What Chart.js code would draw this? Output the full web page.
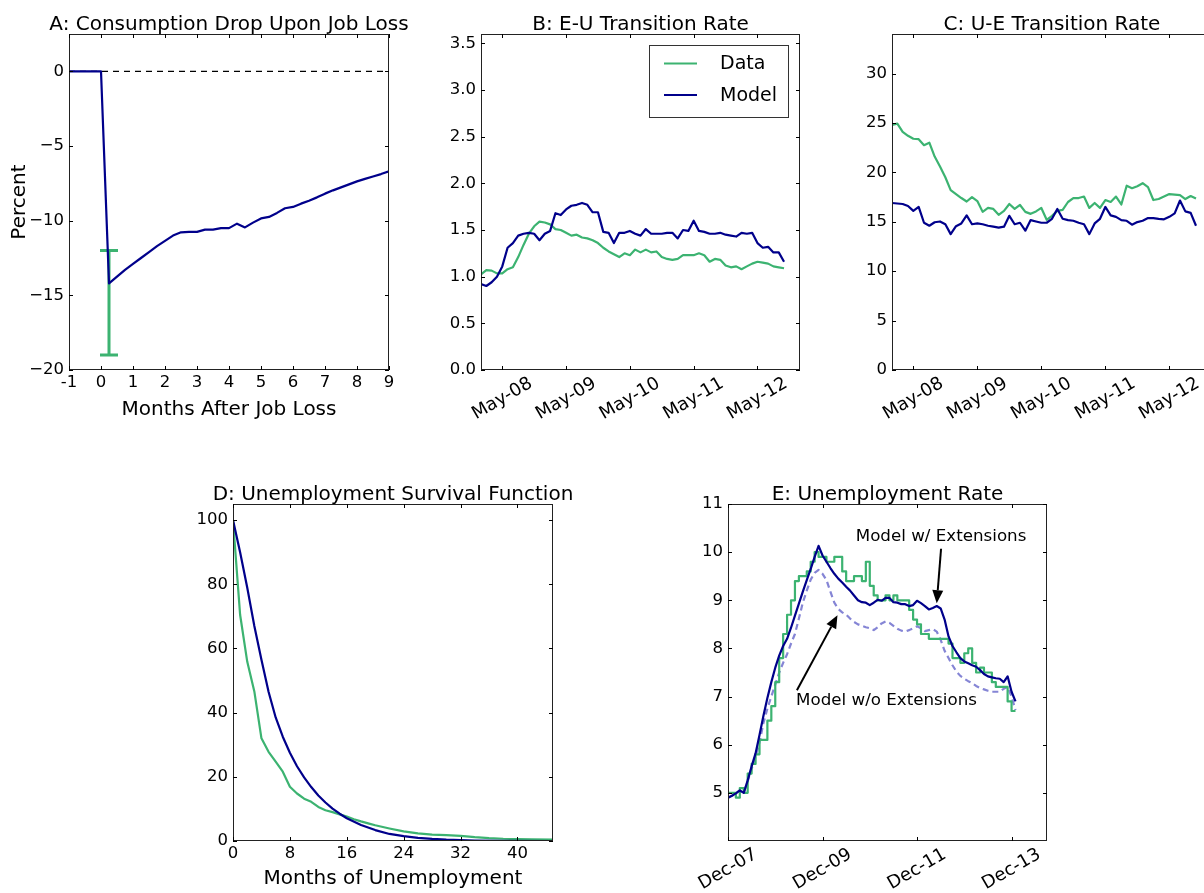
<!DOCTYPE html>
<html>
<head>
<meta charset="utf-8">
<title>Unemployment, transition rates and consumption</title>
<script src="https://cdn.jsdelivr.net/npm/chart.js@4.4.1/dist/chart.umd.min.js"></script>
<style>
  html, body { margin: 0; padding: 0; background: #fff; overflow: hidden; }
  #page { position: relative; width: 1204px; height: 893px; overflow: hidden; background: #fff; }
  #page canvas { position: absolute; }
</style>
</head>
<body>
<div id="page"></div>
<script>
// ---------------- Panel A: consumption around job loss ----------------
const consMonths = [-1, -0.75, -0.5, -0.25, 0, 0.25, 0.5, 0.75, 1, 1.25, 1.5, 1.75, 2, 2.25, 2.5, 2.75,
  3, 3.25, 3.5, 3.75, 4, 4.25, 4.5, 4.75, 5, 5.25, 5.5, 5.75, 6, 6.25, 6.5, 6.75, 7, 7.25, 7.5, 7.75,
  8, 8.25, 8.5, 8.75, 9];
const consModel = [0, 0, 0, 0, 0, -14.2, -13.75, -13.3, -12.9, -12.5, -12.1, -11.7, -11.35, -11.0, -10.78, -10.75,
  -10.75, -10.6, -10.6, -10.5, -10.5, -10.2, -10.45, -10.13, -9.85, -9.75, -9.48, -9.17, -9.08, -8.86, -8.66, -8.44,
  -8.19, -7.97, -7.77, -7.57, -7.37, -7.2, -7.04, -6.88, -6.7];
const consEstMonth = 0.25;
const consEstLow = -19;
const consEstHigh = -12;
const consXTicks = [-1, 0, 1, 2, 3, 4, 5, 6, 7, 8, 9];
const consYTicks = [-20, -15, -10, -5, 0];
const consYLabels = ['\u221220', '\u221215', '\u221210', '\u22125', '0'];

// ---------------- Panels B & C: monthly flow rates from Jan-08 ----------------
const flowTicks = [4, 16, 28, 40, 52];
const flowTickLabels = ['May-08', 'May-09', 'May-10', 'May-11', 'May-12'];
const euData = [1.025, 1.07, 1.065, 1.035, 1.035, 1.08, 1.10, 1.21, 1.34, 1.46,
  1.54, 1.59, 1.58, 1.56, 1.51, 1.50, 1.47, 1.44, 1.45, 1.42,
  1.41, 1.39, 1.36, 1.31, 1.27, 1.24, 1.21, 1.25, 1.23, 1.29,
  1.26, 1.29, 1.26, 1.27, 1.21, 1.19, 1.18, 1.19, 1.23, 1.23,
  1.23, 1.25, 1.23, 1.16, 1.19, 1.18, 1.12, 1.10, 1.11, 1.08,
  1.11, 1.14, 1.16, 1.15, 1.14, 1.11, 1.10, 1.09];
const euModel = [0.92, 0.90, 0.94, 1.00, 1.11, 1.31, 1.36, 1.44, 1.46, 1.47,
  1.46, 1.39, 1.46, 1.49, 1.68, 1.66, 1.72, 1.76, 1.77, 1.79,
  1.77, 1.69, 1.69, 1.48, 1.47, 1.36, 1.47, 1.47, 1.49, 1.46,
  1.44, 1.51, 1.46, 1.46, 1.46, 1.47, 1.47, 1.41, 1.50, 1.49,
  1.60, 1.49, 1.48, 1.46, 1.46, 1.47, 1.45, 1.44, 1.43, 1.47,
  1.46, 1.47, 1.36, 1.31, 1.32, 1.26, 1.26, 1.16];
const ueData = [24.8, 24.93, 24.1, 23.7, 23.4, 23.36, 22.75, 23.0, 21.6, 20.6,
  19.5, 18.2, 17.8, 17.4, 17.05, 17.5, 17.1, 16.0, 16.4, 16.3,
  15.7, 16.1, 16.8, 16.3, 16.7, 16.0, 15.8, 16.05, 16.4, 15.2,
  15.6, 16.1, 16.2, 17.0, 17.4, 17.4, 17.55, 16.4, 16.9, 16.4,
  17.2, 17.0, 17.55, 16.75, 18.65, 18.4, 18.6, 18.9, 18.5, 17.2,
  17.3, 17.55, 17.8, 17.75, 17.7, 17.3, 17.6, 17.35];
const ueModel = [16.9, 16.85, 16.8, 16.6, 16.1, 16.5, 14.9, 14.6, 14.95, 15.03,
  14.75, 13.75, 14.55, 14.83, 15.65, 14.75, 14.83, 14.75, 14.6, 14.5,
  14.4, 14.5, 15.6, 14.75, 14.9, 14.1, 15.17, 15.03, 14.9, 14.9,
  15.3, 16.3, 15.3, 15.17, 15.1, 14.9, 14.75, 13.75, 14.83, 15.3,
  16.5, 15.65, 15.5, 15.17, 15.1, 14.7, 14.97, 15.1, 15.37, 15.37,
  15.3, 15.25, 15.5, 15.85, 17.15, 16.05, 15.9, 14.6];
const euYTicks = [0, 0.5, 1, 1.5, 2, 2.5, 3, 3.5];
const euYLabels = ['0.0', '0.5', '1.0', '1.5', '2.0', '2.5', '3.0', '3.5'];
const ueYTicks = [0, 5, 10, 15, 20, 25, 30];
const ueYLabels = ['0', '5', '10', '15', '20', '25', '30'];

// ---------------- Panel D: survival in unemployment ----------------
const survDataMonths = [0, 1, 2, 3, 4, 5, 6, 7, 8, 9, 10, 11, 12, 13, 14, 15, 16, 17, 18, 19, 20,
  22, 24, 26, 28, 30, 32, 34, 36, 38, 40, 42, 45];
const survData = [100, 70.5, 55.9, 46.6, 32, 27.8, 24.7, 21.6, 16.9, 14.8, 13.2, 12.2, 10.6, 9.6, 9.0, 8.3, 7.6, 6.8, 6.1, 5.5, 4.9,
  3.9, 3.0, 2.4, 2.0, 1.8, 1.6, 1.2, 0.9, 0.7, 0.6, 0.5, 0.4];
const survModelMonths = [0, 1, 2, 3, 4, 5, 6, 7, 8, 9, 10, 11, 12, 13, 14, 15, 16, 18, 20, 22, 24, 26, 28, 30, 34, 38, 45];
const survModel = [100, 90, 79, 67, 56.5, 46.5, 38.5, 32.5, 27.5, 23.3, 19.8, 16.8, 14.2, 12.0, 10.1, 8.5, 7.1,
  5.0, 3.4, 2.2, 1.5, 1.0, 0.65, 0.4, 0.15, 0.05, 0];
const survXTicks = [0, 8, 16, 24, 32, 40];
const survYTicks = [0, 20, 40, 60, 80, 100];

// ---------------- Panel E: unemployment rate from Dec-07 ----------------
const urateTicks = [0, 24, 48, 72];
const urateTickLabels = ['Dec-07', 'Dec-09', 'Dec-11', 'Dec-13'];
const urateData = [5.0, 5.0, 4.9, 5.1, 5.0, 5.4, 5.6, 5.8, 6.1, 6.1,
  6.5, 6.8, 7.3, 7.8, 8.3, 8.7, 9.0, 9.4, 9.5, 9.5,
  9.6, 9.8, 10.0, 9.9, 9.9, 9.8, 9.8, 9.9, 9.9, 9.6,
  9.4, 9.4, 9.5, 9.5, 9.4, 9.8, 9.3, 9.1, 9.0, 9.0,
  9.1, 9.0, 9.1, 9.0, 9.0, 9.0, 8.8, 8.6, 8.5, 8.3,
  8.3, 8.2, 8.2, 8.2, 8.2, 8.2, 8.1, 7.8, 7.8, 7.7,
  7.9, 8.0, 7.7, 7.5, 7.6, 7.5, 7.5, 7.3, 7.2, 7.2,
  7.2, 6.9, 6.7, 6.7];
const urateModelExt = [4.9, 4.94, 4.99, 5.05, 5.0, 5.26, 5.55, 5.82, 6.2, 6.6,
  6.97, 7.3, 7.6, 7.85, 8.05, 8.2, 8.43, 8.68, 8.93, 9.18,
  9.42, 9.65, 9.9, 10.13, 9.93, 9.8, 9.67, 9.55, 9.45, 9.37,
  9.28, 9.2, 9.1, 9.0, 8.96, 8.95, 8.9, 8.95, 9.01, 8.99,
  9.05, 9.05, 8.96, 8.95, 8.92, 8.92, 8.88, 8.9, 8.99, 8.94,
  8.88, 8.81, 8.84, 8.88, 8.83, 8.6, 8.25, 8.05, 7.92, 7.8,
  7.73, 7.69, 7.65, 7.62, 7.55, 7.47, 7.42, 7.4, 7.38, 7.37,
  7.3, 7.42, 7.1, 6.9];
const urateModelNoExt = [4.9, 4.94, 4.99, 5.05, 5.0, 5.24, 5.5, 5.75, 6.05, 6.45,
  6.75, 7.0, 7.25, 7.5, 7.7, 7.88, 8.1, 8.3, 8.62, 8.95,
  9.2, 9.43, 9.57, 9.63, 9.55, 9.42, 9.18, 8.95, 8.82, 8.75,
  8.7, 8.62, 8.55, 8.5, 8.47, 8.44, 8.42, 8.38, 8.44, 8.52,
  8.56, 8.53, 8.47, 8.41, 8.37, 8.35, 8.38, 8.42, 8.46, 8.42,
  8.36, 8.38, 8.4, 8.35, 8.18, 7.95, 7.8, 7.65, 7.52, 7.43,
  7.37, 7.32, 7.28, 7.22, 7.18, 7.15, 7.12, 7.1, 7.1, 7.1,
  7.16, 7.2, 7.0, 6.72];
const urateYTicks = [5, 6, 7, 8, 9, 10, 11];

// ---------------- styling ----------------
const FONT = '"DejaVu Sans", "Liberation Sans", sans-serif';
const GREEN = '#3cb371';
const NAVY = '#00008b';
const LAVENDER = '#8585d5';
const LINE_W = 2.2;
const TICK_SIZE = 16.5;
const SLANT_SIZE = 18;

// callouts for panel E, anchored in (month, rate) units
const urateCallouts = [
  { text: 'Model w/ Extensions', at: [54.1, 10.32], from: [54.1, 10.07], to: [53.0, 8.94] },
  { text: 'Model w/o Extensions', at: [40.25, 6.91], from: [17.5, 7.13], to: [27.8, 8.69] }
];

const page = document.getElementById('page');
const pts = (xs, ys) => xs.map((x, i) => ({ x: x, y: ys[i] }));
const idx = n => Array.from({ length: n }, (_, i) => i);

function line(data, color, extra) {
  return Object.assign({ data: data, borderColor: color, backgroundColor: color, borderWidth: LINE_W,
    pointRadius: 0, fill: false, tension: 0 }, extra || {});
}

function arrow(ctx, x0, y0, x1, y1) {
  const ang = Math.atan2(y1 - y0, x1 - x0);
  const hl = 13, hw = 5.5;
  const bx = x1 - hl * Math.cos(ang), by = y1 - hl * Math.sin(ang);
  ctx.lineWidth = 2;
  ctx.beginPath(); ctx.moveTo(x0, y0); ctx.lineTo(bx, by); ctx.stroke();
  ctx.beginPath();
  ctx.moveTo(x1, y1);
  ctx.lineTo(bx + hw * Math.sin(ang), by - hw * Math.cos(ang));
  ctx.lineTo(bx - hw * Math.sin(ang), by + hw * Math.cos(ang));
  ctx.closePath(); ctx.fill();
}

function decor(o) {
  return {
    id: 'decor',
    beforeDatasetsDraw(chart) {
      if (!o.under) return;
      const { ctx, chartArea: ca, scales } = chart;
      ctx.save(); o.under(ctx, ca, scales.x, scales.y); ctx.restore();
    },
    afterDatasetsDraw(chart) {
      const { ctx, chartArea: ca, scales } = chart;
      const x = scales.x, y = scales.y;
      ctx.save();
      if (o.over) { ctx.save(); o.over(ctx, ca, x, y); ctx.restore(); }
      // axes box
      ctx.strokeStyle = '#222'; ctx.lineWidth = 1;
      ctx.strokeRect(ca.left + 0.5, ca.top + 0.5, ca.width - 1, ca.height - 1);
      // inward tick marks on all four sides
      ctx.strokeStyle = '#000';
      ctx.beginPath();
      o.x.ticks.forEach(v => {
        const p = Math.round(x.getPixelForValue(v)) + 0.5;
        ctx.moveTo(p, ca.bottom); ctx.lineTo(p, ca.bottom - 4);
        ctx.moveTo(p, ca.top); ctx.lineTo(p, ca.top + 4);
      });
      o.y.ticks.forEach(v => {
        const p = Math.round(y.getPixelForValue(v)) + 0.5;
        ctx.moveTo(ca.left, p); ctx.lineTo(ca.left + 4, p);
        ctx.moveTo(ca.right, p); ctx.lineTo(ca.right - 4, p);
      });
      ctx.stroke();
      ctx.fillStyle = '#000';
      // slanted date labels
      if (o.x.rotate) {
        ctx.font = SLANT_SIZE + 'px ' + FONT;
        const a = Math.PI / 6, h = SLANT_SIZE * 0.8;
        o.x.ticks.forEach((v, i) => {
          const lab = o.x.labels[i];
          const w = ctx.measureText(lab).width;
          const bh = w * Math.sin(a) + h * Math.cos(a);
          ctx.save();
          ctx.translate(x.getPixelForValue(v), ca.bottom + 6 + bh / 2);
          ctx.rotate(-a);
          ctx.textAlign = 'center'; ctx.textBaseline = 'middle';
          ctx.fillText(lab, 0, 0);
          ctx.restore();
        });
      }
      // panel title
      ctx.font = '20px ' + FONT;
      ctx.textAlign = 'center'; ctx.textBaseline = 'alphabetic';
      ctx.fillText(o.title, (ca.left + ca.right) / 2, ca.top - 4.5);
      if (o.xTitle) ctx.fillText(o.xTitle, (ca.left + ca.right) / 2, ca.bottom + o.xTitleGap);
      if (o.yTitle) {
        ctx.save();
        ctx.translate(ca.left - 44, (ca.top + ca.bottom) / 2);
        ctx.rotate(-Math.PI / 2);
        ctx.fillText(o.yTitle, 0, 0);
        ctx.restore();
      }
      if (o.top) { ctx.save(); o.top(ctx, ca, x, y); ctx.restore(); }
      ctx.restore();
    }
  };
}

function makePanel(o) {
  const PADL = 72, PADT = 42, PADR = 48, PADB = 64;
  const a = o.area;
  const W = PADL + a.w + PADR, H = PADT + a.h + PADB;
  const cv = document.createElement('canvas');
  cv.width = W; cv.height = H;
  cv.style.left = (a.left - PADL) + 'px';
  cv.style.top = (a.top - PADT) + 'px';
  cv.style.width = W + 'px'; cv.style.height = H + 'px';
  page.appendChild(cv);
  const tickFont = { family: FONT, size: TICK_SIZE };
  new Chart(cv.getContext('2d'), {
    type: 'line',
    data: { datasets: o.datasets },
    options: {
      responsive: false, animation: false, devicePixelRatio: 1, events: [],
      layout: { padding: { left: 0, top: PADT, right: PADR, bottom: 0 }, autoPadding: false },
      elements: { point: { radius: 0, hoverRadius: 0 }, line: { borderJoinStyle: 'round' } },
      plugins: { legend: { display: false }, tooltip: { enabled: false }, title: { display: false } },
      scales: {
        x: {
          type: 'linear', position: 'bottom', min: o.x.min, max: o.x.max,
          afterBuildTicks: s => { s.ticks = o.x.ticks.map(v => ({ value: v })); },
          afterFit: s => { s.height = PADB; },
          grid: { display: false, drawTicks: false }, border: { display: false },
          ticks: { display: !o.x.rotate, autoSkip: false, maxRotation: 0, minRotation: 0, padding: 3,
            color: '#000', font: tickFont, callback: (v, i) => o.x.labels[i] }
        },
        y: {
          type: 'linear', position: 'left', min: o.y.min, max: o.y.max,
          afterBuildTicks: s => { s.ticks = o.y.ticks.map(v => ({ value: v })); },
          afterFit: s => { s.width = PADL; },
          grid: { display: false, drawTicks: false }, border: { display: false },
          ticks: { autoSkip: false, padding: 5, color: '#000', font: tickFont, callback: (v, i) => o.y.labels[i] }
        }
      }
    },
    plugins: [decor(o)]
  });
}

// ---- A ----
makePanel({
  area: { left: 69, top: 34, w: 320, h: 336 },
  title: 'A: Consumption Drop Upon Job Loss',
  xTitle: 'Months After Job Loss', xTitleGap: 45, yTitle: 'Percent',
  x: { min: -1, max: 9, ticks: consXTicks, labels: consXTicks.map(String) },
  y: { min: -20, max: 2.5, ticks: consYTicks, labels: consYLabels },
  datasets: [
    line(pts(consMonths, consModel), NAVY),
    line(pts([-1, 9], [0, 0]), '#000', { borderWidth: 1.2, borderDash: [6, 5] })
  ],
  under(ctx, ca, x, y) {
    const px = x.getPixelForValue(consEstMonth);
    const lo = y.getPixelForValue(consEstLow), hi = y.getPixelForValue(consEstHigh);
    ctx.strokeStyle = GREEN; ctx.lineWidth = 3;
    ctx.beginPath();
    ctx.moveTo(px, lo); ctx.lineTo(px, hi);
    ctx.moveTo(px - 9, lo); ctx.lineTo(px + 9, lo);
    ctx.moveTo(px - 9, hi); ctx.lineTo(px + 9, hi);
    ctx.stroke();
  }
});

// ---- B ----
makePanel({
  area: { left: 481, top: 34, w: 319, h: 336 },
  title: 'B: E-U Transition Rate',
  x: { min: 0, max: 60, ticks: flowTicks, labels: flowTickLabels, rotate: true },
  y: { min: 0, max: 3.6, ticks: euYTicks, labels: euYLabels },
  datasets: [
    line(pts(idx(euModel.length), euModel), NAVY),
    line(pts(idx(euData.length), euData), GREEN)
  ],
  top(ctx, ca) {
    const bx = ca.right - 151, by = ca.top + 11, bw = 139, bh = 72;
    ctx.fillStyle = '#fff'; ctx.fillRect(bx, by, bw, bh);
    ctx.strokeStyle = '#333'; ctx.lineWidth = 1;
    ctx.strokeRect(bx + 0.5, by + 0.5, bw, bh);
    const rows = [['Data', GREEN, 18.5], ['Model', NAVY, 50]];
    ctx.font = '19px ' + FONT; ctx.textAlign = 'left'; ctx.textBaseline = 'middle';
    rows.forEach(r => {
      ctx.strokeStyle = r[1]; ctx.lineWidth = LINE_W;
      ctx.beginPath(); ctx.moveTo(bx + 15, by + r[2]); ctx.lineTo(bx + 48, by + r[2]); ctx.stroke();
      ctx.fillStyle = '#000'; ctx.fillText(r[0], bx + 71, by + r[2] + 1);
    });
  }
});

// ---- C ----
makePanel({
  area: { left: 892, top: 34, w: 320, h: 336 },
  title: 'C: U-E Transition Rate',
  x: { min: 0, max: 60, ticks: flowTicks, labels: flowTickLabels, rotate: true },
  y: { min: 0, max: 34, ticks: ueYTicks, labels: ueYLabels },
  datasets: [
    line(pts(idx(ueModel.length), ueModel), NAVY),
    line(pts(idx(ueData.length), ueData), GREEN)
  ]
});

// ---- D ----
makePanel({
  area: { left: 233, top: 504, w: 320, h: 337 },
  title: 'D: Unemployment Survival Function',
  xTitle: 'Months of Unemployment', xTitleGap: 42.5,
  x: { min: 0, max: 45, ticks: survXTicks, labels: survXTicks.map(String) },
  y: { min: 0, max: 105, ticks: survYTicks, labels: survYTicks.map(String) },
  datasets: [
    line(pts(survModelMonths, survModel), NAVY),
    line(pts(survDataMonths, survData), GREEN)
  ]
});

// ---- E ----
makePanel({
  area: { left: 728, top: 504, w: 319, h: 337 },
  title: 'E: Unemployment Rate',
  x: { min: 0, max: 81, ticks: urateTicks, labels: urateTickLabels, rotate: true },
  y: { min: 4, max: 11, ticks: urateYTicks, labels: urateYTicks.map(String) },
  datasets: [
    line(pts(idx(urateModelExt.length), urateModelExt), NAVY),
    line(pts(idx(urateData.length), urateData), GREEN, { stepped: true }),
    line(pts(idx(urateModelNoExt.length), urateModelNoExt), LAVENDER, { borderDash: [6, 4] })
  ],
  over(ctx, ca, x, y) {
    ctx.fillStyle = '#000'; ctx.strokeStyle = '#000';
    urateCallouts.forEach(c => {
      arrow(ctx, x.getPixelForValue(c.from[0]), y.getPixelForValue(c.from[1]),
        x.getPixelForValue(c.to[0]), y.getPixelForValue(c.to[1]));
      ctx.font = '16.7px ' + FONT; ctx.textAlign = 'center'; ctx.textBaseline = 'middle';
      ctx.fillText(c.text, x.getPixelForValue(c.at[0]), y.getPixelForValue(c.at[1]));
    });
  }
});
</script>
</body>
</html>
